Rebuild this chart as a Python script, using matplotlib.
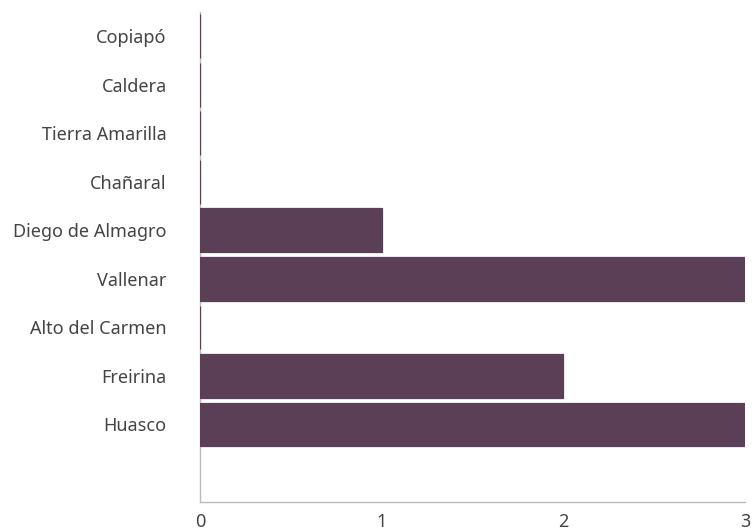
import matplotlib
matplotlib.use("Agg")
import matplotlib.pyplot as plt

categories = ["Copiapó", "Caldera", "Tierra Amarilla", "Chañaral", "Diego de Almagro",
              "Vallenar", "Alto del Carmen", "Freirina", "Huasco", ""]
values = [0, 0, 0, 0, 1, 3, 0, 2, 3, 0]
xticks = [0, 1, 2, 3]

plt.rcParams['font.family'] = ['Noto Sans', 'DejaVu Sans']
color = "#5B3F57"

fig = plt.figure(figsize=(7.56, 5.31), dpi=100)
ax = fig.add_axes([200/756, 1-502/531, 545/756, (502-12)/531])
ys = list(range(len(categories)))
vals = values[:9]
ax.barh(ys[:9], vals, height=0.9, color=color, edgecolor=color, linewidth=0.9, zorder=3)
ax.set_ylim(9.6, -0.5)
ax.set_xlim(0, 3)
ax.set_yticks(ys)
ax.set_yticklabels(categories)
ax.set_xticks(xticks)
ax.set_xticklabels([str(t) for t in xticks])
ax.tick_params(axis='both', length=0, labelsize=13, labelcolor="#444444")
ax.tick_params(axis='y', pad=24)
ax.tick_params(axis='x', pad=8)
for s in ['top', 'right']:
    ax.spines[s].set_visible(False)
for s in ['left', 'bottom']:
    ax.spines[s].set_color("#bbbbbb")
    ax.spines[s].set_linewidth(1)
fig.savefig("out.png", dpi=100)
